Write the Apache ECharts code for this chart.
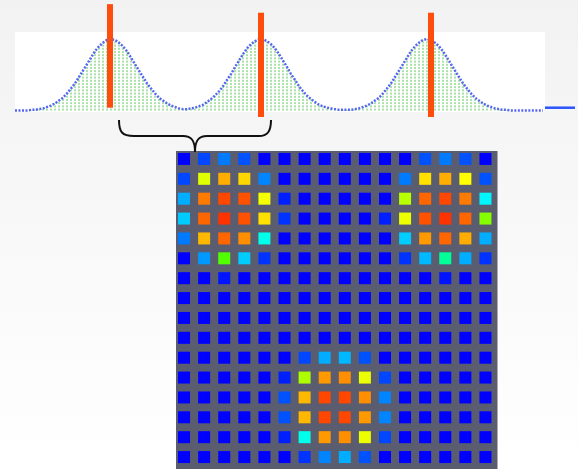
<!DOCTYPE html>
<html>
<head>
<meta charset="utf-8">
<script src="https://cdn.jsdelivr.net/npm/echarts@6/dist/echarts.min.js"></script>
<style>
html, body { margin: 0; padding: 0; }
#chart { width: 578px; height: 469px; background: linear-gradient(#f2f2f2, #ffffff); }
</style>
</head>
<body>
<div id="chart"></div>
<script>
// Intensity profile along the strip, one sample every SAMPLE_STEP units
const SAMPLE_STEP = 4;
const profile = [
  0, 0, 0, 0,
  0.01, 0.01, 0.02, 0.03, 0.05, 0.07, 0.10, 0.14, 0.18, 0.24, 0.31, 0.38, 0.47, 0.56, 0.65, 0.74, 0.83, 0.90, 0.95, 0.99,
  1.00,
  0.99, 0.95, 0.90, 0.83, 0.74, 0.65, 0.56, 0.47, 0.38, 0.31, 0.24, 0.18, 0.14, 0.10, 0.07, 0.05, 0.03, 0.02, 0.02, 0.03,
  0.04, 0.06, 0.08, 0.12, 0.16, 0.21, 0.27, 0.34, 0.43, 0.51, 0.61, 0.70, 0.79, 0.87, 0.93, 0.97, 1.00,
  1.00, 0.97, 0.93, 0.87, 0.79, 0.70, 0.61, 0.51, 0.43, 0.34, 0.27, 0.21, 0.16, 0.12, 0.08, 0.06, 0.04, 0.03, 0.02, 0.01, 0.01,
  0.01, 0.01, 0.02, 0.03, 0.05, 0.07, 0.10, 0.14, 0.18, 0.24, 0.31, 0.38, 0.47, 0.56, 0.65, 0.74, 0.83, 0.90, 0.95, 0.99,
  1.00,
  0.99, 0.95, 0.90, 0.83, 0.74, 0.65, 0.56, 0.47, 0.38, 0.31, 0.24, 0.18, 0.14, 0.10, 0.07, 0.05, 0.03, 0.02, 0.01, 0.01,
  0, 0, 0, 0, 0, 0, 0, 0, 0
];

// Peak markers: [position, lower end, upper end]
const peakMarkers = [
  [95, 0.04, 1.49],
  [246, -0.09, 1.37],
  [416, -0.09, 1.37]
];

// Profile continuing past the right edge of the strip: [start, end, level]
const profileTail = [[530, 560, 0.04]];

// 16 x 16 cell map, rows top to bottom
const mapCols = ['0','1','2','3','4','5','6','7','8','9','10','11','12','13','14','15'];
const mapRows = ['0','1','2','3','4','5','6','7','8','9','10','11','12','13','14','15'];
const cellValues = [
  [0, 7, 12, 8, 0, 0, 0, 0, 0, 0, 0, 0, 8, 12, 8, 0],
  [7, 72, 83, 79, 13, 0, 0, 0, 0, 0, 0, 12, 78, 83, 75, 8],
  [17, 88, 93, 92, 74, 3, 0, 0, 0, 0, 0, 68, 90, 93, 88, 24],
  [20, 90, 95, 92, 78, 5, 0, 0, 0, 0, 3, 73, 92, 95, 90, 63],
  [12, 82, 90, 86, 27, 0, 0, 0, 0, 0, 0, 20, 85, 90, 83, 17],
  [0, 15, 58, 20, 5, 0, 0, 0, 0, 0, 0, 5, 18, 35, 17, 5],
  [0, 0, 2, 0, 0, 0, 0, 0, 0, 0, 0, 0, 0, 2, 0, 0],
  [0, 0, 0, 0, 0, 0, 0, 0, 0, 0, 0, 0, 0, 0, 0, 0],
  [0, 0, 0, 0, 0, 0, 0, 0, 0, 0, 0, 0, 0, 0, 0, 0],
  [0, 0, 0, 0, 0, 0, 0, 0, 0, 0, 0, 0, 0, 0, 0, 0],
  [0, 0, 0, 0, 0, 0, 7, 17, 18, 8, 0, 0, 0, 0, 0, 0],
  [0, 0, 0, 0, 0, 3, 67, 85, 86, 73, 7, 0, 0, 0, 0, 0],
  [0, 0, 0, 0, 0, 8, 82, 93, 93, 86, 13, 0, 0, 0, 0, 0],
  [0, 0, 0, 0, 0, 8, 82, 93, 93, 85, 13, 0, 0, 0, 0, 0],
  [0, 0, 0, 0, 0, 3, 27, 85, 86, 73, 7, 0, 0, 0, 0, 0],
  [0, 0, 0, 0, 0, 0, 5, 13, 17, 8, 0, 0, 0, 0, 0, 0]
];

const profilePoints = profile.map((v, i) => [i * SAMPLE_STEP, v]);
const cellPoints = [];
cellValues.forEach((row, r) => row.forEach((v, c) => cellPoints.push([c, r, v])));

const chart = echarts.init(document.getElementById('chart'), null, { renderer: 'canvas' });

// curly brace joining the first two peaks to the cell map
const braceStyle = { stroke: '#111111', lineWidth: 2, fill: null };
const brace = [
  { type: 'bezierCurve', shape: { x1: 119, y1: 120, cpx1: 119, cpy1: 132, cpx2: 122, cpy2: 136, x2: 134, y2: 136 } },
  { type: 'line', shape: { x1: 134, y1: 136, x2: 183, y2: 136 } },
  { type: 'bezierCurve', shape: { x1: 183, y1: 136, cpx1: 191, cpy1: 136, cpx2: 195, cpy2: 140, x2: 195, y2: 152 } },
  { type: 'bezierCurve', shape: { x1: 195, y1: 152, cpx1: 195, cpy1: 140, cpx2: 199, cpy2: 136, x2: 207, y2: 136 } },
  { type: 'line', shape: { x1: 207, y1: 136, x2: 259, y2: 136 } },
  { type: 'bezierCurve', shape: { x1: 259, y1: 136, cpx1: 267, cpy1: 136, cpx2: 271, cpy2: 132, x2: 271, y2: 120 } }
].map(el => Object.assign(el, { z: 100, style: braceStyle }));

chart.setOption({
  animation: false,
  backgroundColor: 'transparent',
  grid: [
    { left: 15, top: 32, width: 530, height: 80, show: true, backgroundColor: '#ffffff', borderWidth: 0 },
    { left: 176, top: 151, width: 321.5, height: 322, show: true, backgroundColor: '#5a5d6f', borderWidth: 0 }
  ],
  xAxis: [
    { gridIndex: 0, type: 'value', min: 0, max: 530, show: false },
    { gridIndex: 1, type: 'category', data: mapCols, show: false }
  ],
  yAxis: [
    { gridIndex: 0, type: 'value', min: -0.02, max: 1.1, show: false },
    { gridIndex: 1, type: 'category', data: mapRows, inverse: true, show: false }
  ],
  visualMap: {
    show: false,
    seriesIndex: 4,
    dimension: 2,
    min: 0,
    max: 100,
    inRange: { color: ['#0000ff', '#00ffff', '#00ff00', '#ffff00', '#ff0000'] }
  },
  series: [
    {
      // dotted stems from the baseline up to each sample
      type: 'custom',
      xAxisIndex: 0, yAxisIndex: 0,
      data: profilePoints,
      z: 2,
      silent: true,
      renderItem: (params, api) => {
        const x = api.value(0), v = api.value(1);
        const p0 = api.coord([x, 0]);
        const p1 = api.coord([x, v]);
        return {
          type: 'line',
          shape: { x1: p0[0], y1: p0[1], x2: p1[0], y2: p1[1] },
          style: { stroke: '#55c455', lineWidth: 1, lineDash: [2, 1.2] }
        };
      }
    },
    {
      type: 'line',
      xAxisIndex: 0, yAxisIndex: 0,
      data: profilePoints,
      showSymbol: false,
      silent: true,
      z: 3,
      lineStyle: { color: '#5566f0', width: 2.5, type: [2, 1.5] }
    },
    {
      // solid continuation beyond the strip
      type: 'custom',
      xAxisIndex: 0, yAxisIndex: 0,
      data: profileTail,
      encode: { x: [0, 1], y: 2 },
      clip: false,
      silent: true,
      z: 3,
      renderItem: (params, api) => {
        const a = api.coord([api.value(0), api.value(2)]);
        const b = api.coord([api.value(1), api.value(2)]);
        return {
          type: 'line',
          shape: { x1: a[0], y1: a[1], x2: b[0], y2: b[1] },
          style: { stroke: '#2a55ff', lineWidth: 2.5 }
        };
      }
    },
    {
      // vertical peak markers
      type: 'custom',
      xAxisIndex: 0, yAxisIndex: 0,
      data: peakMarkers,
      encode: { x: 0, y: [1, 2] },
      clip: false,
      z: 5,
      silent: true,
      renderItem: (params, api) => {
        const x = api.value(0);
        const top = api.coord([x, api.value(2)]);
        const bottom = api.coord([x, api.value(1)]);
        return {
          type: 'rect',
          shape: { x: top[0] - 3, y: top[1], width: 6, height: bottom[1] - top[1] },
          style: { fill: '#ff4d0d' }
        };
      }
    },
    {
      type: 'scatter',
      xAxisIndex: 1, yAxisIndex: 1,
      data: cellPoints,
      symbol: 'rect',
      symbolSize: 12,
      symbolOffset: [-2, -2],
      itemStyle: { opacity: 1 },
      silent: true,
      z: 3
    }
  ],
  graphic: brace
});
</script>
</body>
</html>
